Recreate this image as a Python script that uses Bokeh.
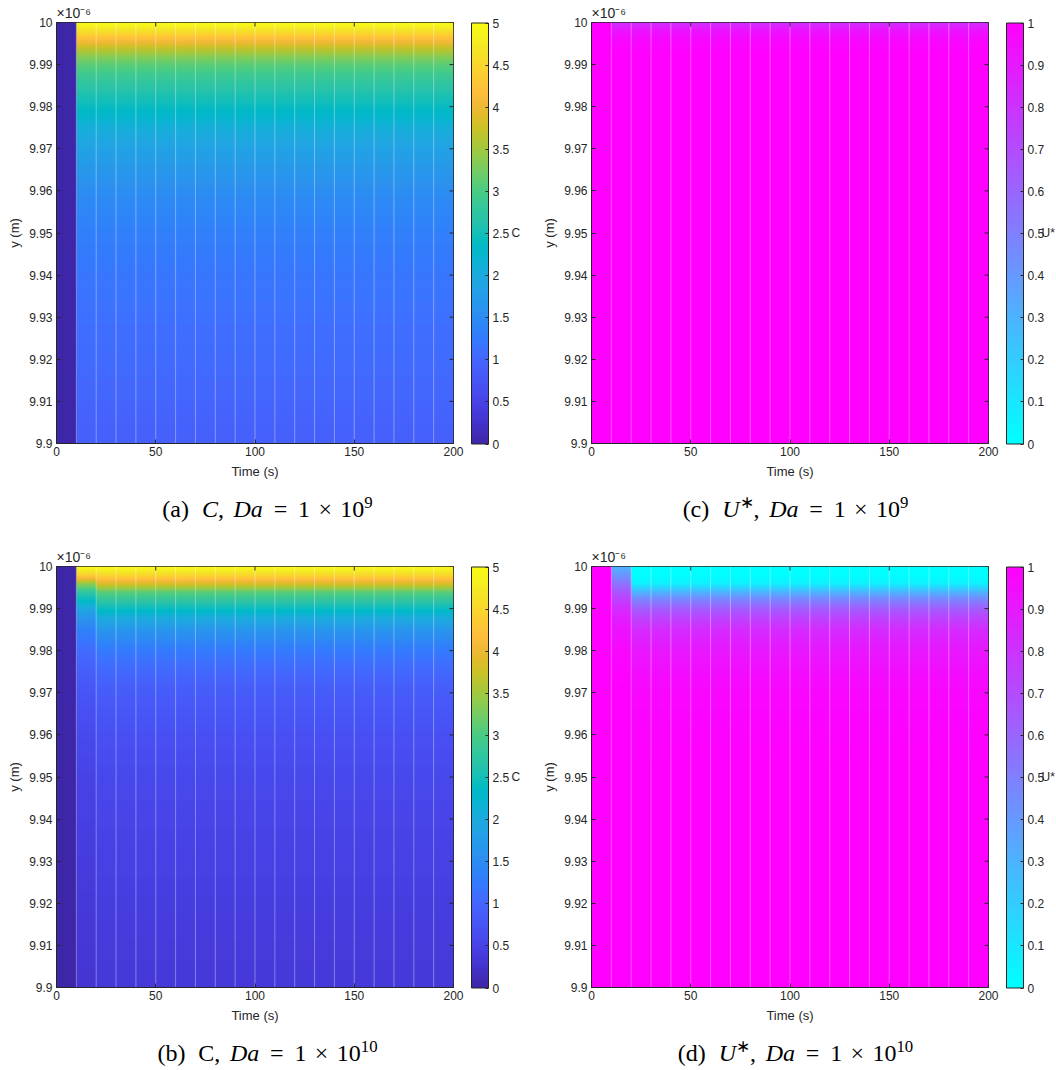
import numpy as np
from bokeh.plotting import figure
from bokeh.models import (LinearColorMapper, ColorBar, FixedTicker, LinearAxis, Title,
                          Div, Range1d, CustomJSTickFormatter)
from bokeh.layouts import column, row
from bokeh.embed import file_html
from bokeh.resources import INLINE

# ---------------------------------------------------------------- data
# output steps (left edge of each 10 s step) and end of run
time_s = [0, 10, 20, 30, 40, 50, 60, 70, 80, 90, 100, 110, 120, 130, 140, 150, 160, 170, 180, 190]
t_end = 200

# sampled heights across the film (micrometres)
y_nodes_um = [9.900, 9.920, 9.940, 9.950, 9.960, 9.970, 9.975, 9.980,
              9.985, 9.988, 9.990, 9.992, 9.994, 9.996, 9.998, 10.000]

# concentration C, Da = 1e9
C_da9_t0 = [0.0, 0.0, 0.0, 0.0, 0.0, 0.0, 0.0, 0.0, 0.0, 0.0, 0.0, 0.0, 0.0, 0.0, 0.0, 0.0]
C_da9_t10 = [0.90, 1.05, 1.20, 1.32, 1.52, 1.85, 2.08, 2.40, 2.70, 2.92, 3.10, 3.35, 3.70, 4.15, 4.60, 5.00]

# concentration C, Da = 1e10
C_da10_t0 = [0.0, 0.0, 0.0, 0.0, 0.0, 0.0, 0.0, 0.0, 0.0, 0.0, 0.0, 0.0, 0.0, 0.0, 0.0, 0.0]
C_da10_t10 = [0.30, 0.36, 0.45, 0.50, 0.60, 0.75, 0.88, 1.05, 1.35, 1.65, 1.95, 2.35, 2.75, 3.40, 4.40, 5.00]
C_da10_t20 = [0.35, 0.42, 0.52, 0.58, 0.68, 0.85, 1.00, 1.25, 1.65, 2.05, 2.40, 2.75, 3.10, 3.85, 4.50, 5.00]

# normalised U*, Da = 1e9
U_da9_t0 = [1.0, 1.0, 1.0, 1.0, 1.0, 1.0, 1.0, 1.0, 1.0, 1.0, 1.0, 1.0, 1.0, 1.0, 1.0, 1.0]
U_da9_t10 = [1.0, 1.0, 1.0, 1.0, 1.0, 1.0, 1.0, 1.0, 1.0, 1.0, 1.0, 1.0, 0.99, 0.97, 0.93, 0.82]

# normalised U*, Da = 1e10
U_da10_t0 = [1.0, 1.0, 1.0, 1.0, 1.0, 1.0, 1.0, 1.0, 1.0, 1.0, 1.0, 1.0, 1.0, 1.0, 1.0, 1.0]
U_da10_t10 = [1.0, 1.0, 1.0, 1.0, 1.0, 1.0, 0.99, 0.97, 0.93, 0.88, 0.83, 0.76, 0.67, 0.55, 0.42, 0.30]
U_da10_t20 = [1.0, 1.0, 1.0, 1.0, 0.99, 0.975, 0.95, 0.91, 0.83, 0.73, 0.64, 0.50, 0.30, 0.06, 0.0, 0.0]

# profile shown for each output step
C_da9_steps = [C_da9_t0] + [C_da9_t10] * 19
C_da10_steps = [C_da10_t0, C_da10_t10] + [C_da10_t20] * 18
U_da9_steps = [U_da9_t0] + [U_da9_t10] * 19
U_da10_steps = [U_da10_t0, U_da10_t10] + [U_da10_t20] * 18

# axis ticks
x_ticks = [0, 50, 100, 150, 200]
y_ticks_um = [9.90, 9.91, 9.92, 9.93, 9.94, 9.95, 9.96, 9.97, 9.98, 9.99, 10.00]
C_ticks = [0, 0.5, 1, 1.5, 2, 2.5, 3, 3.5, 4, 4.5, 5]
U_ticks = [0, 0.1, 0.2, 0.3, 0.4, 0.5, 0.6, 0.7, 0.8, 0.9, 1]

# ---------------------------------------------------------------- colour maps
parula_anchors = [
    (0.2422, 0.1504, 0.6603), (0.2576, 0.1814, 0.7501), (0.2704, 0.2138, 0.8346),
    (0.2781, 0.2543, 0.8973), (0.2813, 0.2985, 0.9397), (0.2798, 0.3421, 0.9702),
    (0.2710, 0.3860, 0.9898), (0.2473, 0.4319, 0.9983), (0.2006, 0.4803, 0.9906),
    (0.1795, 0.5244, 0.9709), (0.1716, 0.5655, 0.9393), (0.1475, 0.6043, 0.9113),
    (0.1288, 0.6408, 0.8910), (0.1009, 0.6750, 0.8653), (0.0433, 0.7039, 0.8242),
    (0.0018, 0.7275, 0.7752), (0.0770, 0.7468, 0.7224), (0.1609, 0.7635, 0.6671),
    (0.2061, 0.7808, 0.6065), (0.2695, 0.7951, 0.5360), (0.3671, 0.8021, 0.4563),
    (0.4753, 0.8011, 0.3691), (0.5886, 0.7913, 0.2833), (0.6963, 0.7750, 0.2075),
    (0.7945, 0.7554, 0.1570), (0.8804, 0.7372, 0.1650), (0.9523, 0.7284, 0.2237),
    (0.9971, 0.7513, 0.2309), (0.9938, 0.7974, 0.1974), (0.9748, 0.8467, 0.1726),
    (0.9601, 0.8963, 0.1507), (0.9642, 0.9437, 0.1216), (0.9769, 0.9839, 0.0805),
]
cool_anchors = [(0.0, 1.0, 1.0), (1.0, 0.0, 1.0)]


def make_palette(anchors, n=256):
    a = np.array(anchors)
    pos = np.linspace(0, 1, len(a))
    s = np.linspace(0, 1, n)
    rgb = np.stack([np.interp(s, pos, a[:, k]) for k in range(3)], axis=1)
    rgb = np.round(rgb * 255).astype(int)
    return ["#%02x%02x%02x" % tuple(c) for c in rgb]


PARULA = make_palette(parula_anchors)
COOL = make_palette(cool_anchors)

# ---------------------------------------------------------------- styling
FONT = "Liberation Sans"
AX = "#262626"
TICK_SIZE = "12px"
LABEL_SIZE = "13px"
FRAME_W, FRAME_H = 397, 421
Y0, Y1 = 9.9e-6, 1.0e-5
CB_GAP = 18

y_ticks = [v * 1e-6 for v in y_ticks_um]
y_fmt = CustomJSTickFormatter(code="""
    const s = (tick * 1e6).toFixed(2);
    return s.replace(/0+$/, '').replace(/\\.$/, '');
""")
cb_fmt = CustomJSTickFormatter(code="return String(Math.round(tick * 10) / 10);")


def style_axis(ax):
    ax.axis_line_color = AX
    ax.major_tick_line_color = AX
    ax.major_tick_in = 4
    ax.major_tick_out = 0
    ax.minor_tick_line_color = None
    ax.major_label_text_font = FONT
    ax.major_label_text_font_size = TICK_SIZE
    ax.major_label_text_color = AX
    ax.axis_label_text_font = FONT
    ax.axis_label_text_font_size = LABEL_SIZE
    ax.axis_label_text_font_style = "normal"
    ax.axis_label_text_color = AX


def shaded_image(steps):
    """Field sampled per pixel row; each output step is a flat column."""
    fine_y = np.linspace(y_nodes_um[0], y_nodes_um[-1], FRAME_H)
    cols = [np.interp(fine_y, y_nodes_um, prof) for prof in steps]
    field = np.stack(cols, axis=1)                 # rows: y, cols: step
    return np.repeat(field, 20, axis=1)            # 0.5 s per image column


def make_panel(steps, palette, lo, hi, cb_ticks, cb_title, title_pull, border_right):
    p = figure(frame_width=FRAME_W, frame_height=FRAME_H,
               x_range=Range1d(0, t_end), y_range=Range1d(Y0, Y1),
               toolbar_location=None, output_backend="svg",
               min_border_left=56, min_border_top=22, min_border_bottom=40,
               min_border_right=border_right)
    p.grid.visible = False
    p.outline_line_color = AX
    p.background_fill_color = "white"

    # axis multiplier above the y axis
    p.title = Title(text="×10⁻⁶", align="left", offset=0, standoff=3,
                    text_font=FONT, text_font_size="14px",
                    text_font_style="normal", text_color=AX)

    mapper = LinearColorMapper(palette=palette, low=lo, high=hi)
    p.image(image=[shaded_image(steps)], x=0, y=Y0, dw=t_end, dh=Y1 - Y0,
            color_mapper=mapper)

    # faint seams between output steps
    p.segment(x0=time_s[1:], y0=Y0, x1=time_s[1:], y1=Y1,
              line_color="white", line_alpha=0.35, line_width=1)

    # inward ticks on the top and right edges of the box
    p.scatter(x=x_ticks, y=[Y1] * len(x_ticks), marker="dash", size=8,
              angle=np.pi / 2, line_color=AX, line_width=1)
    p.scatter(x=[t_end] * len(y_ticks), y=y_ticks, marker="dash", size=8,
              line_color=AX, line_width=1)

    p.xaxis.ticker = FixedTicker(ticks=x_ticks)
    p.xaxis.axis_label = "Time (s)"
    p.xaxis.major_label_standoff = 3
    p.xaxis.axis_label_standoff = 5
    p.yaxis.ticker = FixedTicker(ticks=y_ticks)
    p.yaxis.formatter = y_fmt
    p.yaxis.axis_label = "y (m)"
    p.yaxis.major_label_standoff = 4
    p.yaxis.axis_label_standoff = 4
    style_axis(p.xaxis[0])
    style_axis(p.yaxis[0])

    cb = ColorBar(color_mapper=mapper, ticker=FixedTicker(ticks=cb_ticks),
                  formatter=cb_fmt, width=17, height=FRAME_H, padding=CB_GAP, margin=0,
                  location="center_left",
                  major_tick_in=3, major_tick_out=0, major_tick_line_color=AX,
                  minor_tick_line_color=None, bar_line_color=AX, label_standoff=4,
                  major_label_text_font=FONT, major_label_text_font_size=TICK_SIZE,
                  major_label_text_color=AX, border_line_color=None,
                  background_fill_color=None)
    p.add_layout(cb, "right")

    # colour bar caption as an unticked axis label, pulled back next to the labels
    cap = LinearAxis(ticker=FixedTicker(ticks=[]), axis_label=cb_title,
                     axis_line_color=None, major_tick_line_color=None,
                     minor_tick_line_color=None, axis_label_standoff=-title_pull)
    cap.axis_label_text_font = FONT
    cap.axis_label_text_font_size = TICK_SIZE
    cap.axis_label_text_font_style = "normal"
    cap.axis_label_text_color = AX
    if "axis_label_orientation" in LinearAxis.properties():
        cap.axis_label_orientation = "horizontal"
    p.add_layout(cap, "right")
    return p


def caption(parts, sup, width, height):
    """parts: (html, gap in em before it) pieces of the caption line."""
    body = "".join('<span style="margin-left:%.2fem">%s</span>' % (g, h) for h, g in parts)
    body += '<sup style="font-size:0.7em">%s</sup>' % sup
    style = ("width:%dpx;text-align:center;font-family:'Liberation Serif',serif;"
             "font-size:24px;color:#000;padding-top:8px;white-space:nowrap;" % width)
    return Div(text='<div style="%s">%s</div>' % (style, body),
               width=width, height=height, margin=0)


def cap_parts(tag, var_html, exp):
    return [(tag, 0), (var_html + ",", 0.54), ("<i>Da</i>", 0.4), ("=", 0.45),
            ("1", 0.45), ("×", 0.35), ("10", 0.35)], exp


U_HTML = '<i>U</i><sup style="font-size:0.7em">∗</sup>'

pa = make_panel(C_da9_steps, PARULA, 0, 5, C_ticks, "C", 19, 82)
pc = make_panel(U_da9_steps, COOL, 0, 1, U_ticks, "U*", 24, 68)
pb = make_panel(C_da10_steps, PARULA, 0, 5, C_ticks, "C", 19, 82)
pd = make_panel(U_da10_steps, COOL, 0, 1, U_ticks, "U*", 24, 68)

cap_a = caption(*cap_parts("(a)", "<i>C</i>", "9"), 535, 61)
cap_c = caption(*cap_parts("(c)", U_HTML, "9"), 521, 61)
cap_b = caption(*cap_parts("(b)", "C", "10"), 535, 43)
cap_d = caption(*cap_parts("(d)", U_HTML, "10"), 521, 43)

layout = column(row(pa, pc), row(cap_a, cap_c), row(pb, pd), row(cap_b, cap_d))

with open("out.html", "w") as f:
    f.write(file_html(layout, INLINE))
